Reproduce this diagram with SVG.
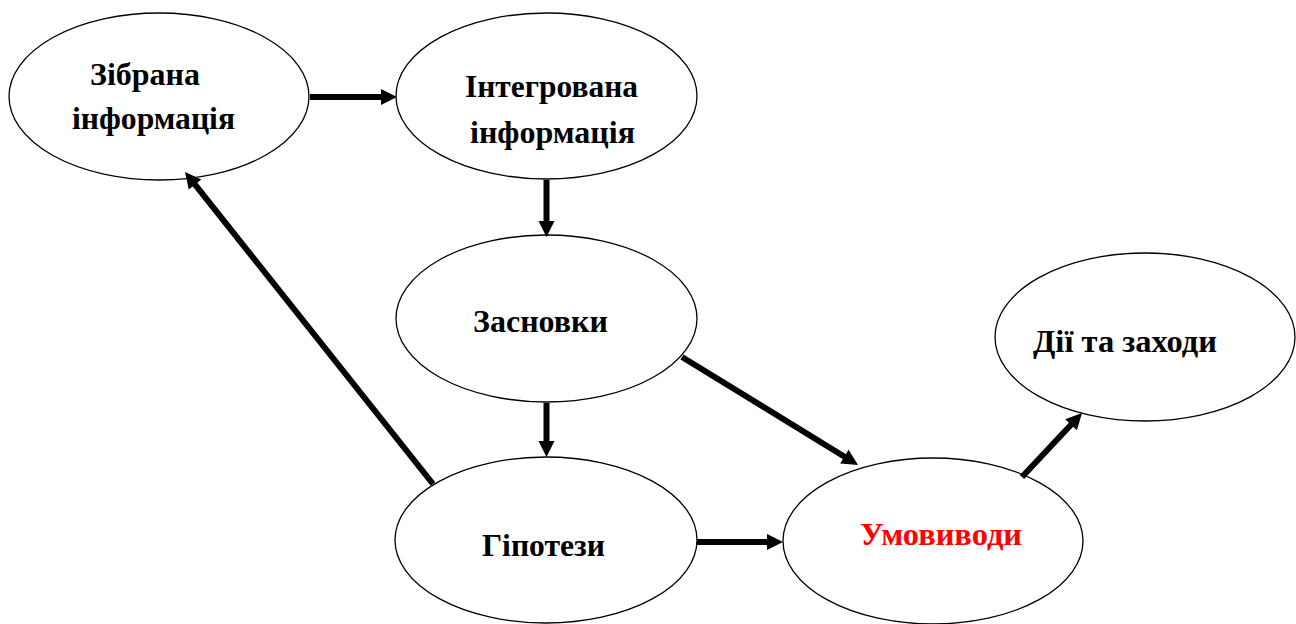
<svg xmlns="http://www.w3.org/2000/svg" width="1296" height="624" viewBox="0 0 1296 624">
  <style>
    .node ellipse { fill: #ffffff; stroke: #000000; stroke-width: 1.3; }
    .node text { font-family: "Liberation Serif", "DejaVu Serif", "Noto Serif", serif; font-weight: bold; font-size: 32px; fill: #000000; }
    .node text.red { fill: #ff0000; }
    .conn line { stroke: #000000; stroke-width: 6; marker-end: url(#arrow); }
  </style>
  <defs>
    <marker id="arrow" markerUnits="userSpaceOnUse" viewBox="0 -9 18 18" refX="4" refY="0" markerWidth="18" markerHeight="18" orient="auto" overflow="visible">
      <path d="M0,-8 L16,0 L0,8 Z" fill="#000000"/>
    </marker>
  </defs>
  <rect width="1296" height="624" fill="#ffffff"/>

  <g id="node-zibrana" class="node">
    <ellipse cx="159" cy="96.5" rx="150" ry="83.5"/>
    <text x="90" y="85" textLength="110" lengthAdjust="spacingAndGlyphs">Зібрана</text>
    <text x="72" y="129" textLength="163" lengthAdjust="spacingAndGlyphs">інформація</text>
  </g>
  <g id="node-intehrovana" class="node">
    <ellipse cx="546.5" cy="96" rx="150.5" ry="83"/>
    <text x="465" y="97" textLength="173" lengthAdjust="spacingAndGlyphs">Інтегрована</text>
    <text x="470" y="143" textLength="165" lengthAdjust="spacingAndGlyphs">інформація</text>
  </g>
  <g id="node-zasnovky" class="node">
    <ellipse cx="546.5" cy="318.5" rx="150.5" ry="83.5"/>
    <text x="473" y="332" textLength="135" lengthAdjust="spacingAndGlyphs">Засновки</text>
  </g>
  <g id="node-hipotezy" class="node">
    <ellipse cx="546" cy="540" rx="151" ry="83"/>
    <text x="482" y="556" textLength="123" lengthAdjust="spacingAndGlyphs">Гіпотези</text>
  </g>
  <g id="node-umovyvody" class="node">
    <ellipse cx="933" cy="541" rx="150" ry="83"/>
    <text class="red" x="860" y="545" textLength="162" lengthAdjust="spacingAndGlyphs">Умовиводи</text>
  </g>
  <g id="node-dii" class="node">
    <ellipse cx="1145" cy="337" rx="150" ry="84"/>
    <text x="1033" y="352" textLength="184" lengthAdjust="spacingAndGlyphs">Дії та заходи</text>
  </g>

  <g id="connectors" class="conn">
    <line x1="310" y1="97" x2="385" y2="97"/>
    <line x1="546.5" y1="180" x2="546.5" y2="225"/>
    <line x1="546.5" y1="403" x2="546.5" y2="445"/>
    <line x1="682" y1="357" x2="847.8" y2="458.7"/>
    <line x1="697" y1="542" x2="771" y2="542"/>
    <line x1="433" y1="484" x2="192.5" y2="181.4"/>
    <line x1="1022" y1="477" x2="1073.8" y2="421.8"/>
  </g>
</svg>
